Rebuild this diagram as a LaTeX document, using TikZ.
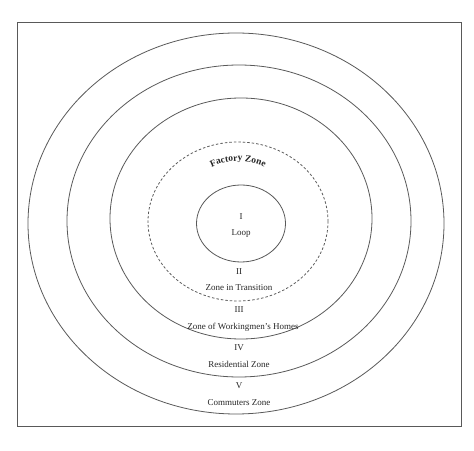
\documentclass[tikz,border=0pt]{standalone}
\usepackage{fontspec}
\setmainfont{Liberation Serif}
\usetikzlibrary{decorations.text}
\begin{document}
\begin{tikzpicture}[x=1pt,y=1pt,
  ring/.style={draw=black!65,line width=0.8pt},
  dashring/.style={draw=black!65,line width=0.8pt,dash pattern=on 2.5pt off 2pt},
  lbl/.style={font=\fontsize{9}{10}\selectfont,text=black!85,inner sep=0pt}]
\useasboundingbox (0,0) rectangle (474,450);
\draw[black!65,line width=0.8pt] (17,24) rectangle (461,428);
\draw[ring] (236,226.5) ellipse [x radius=208, y radius=190.5];
\draw[ring] (239,229) ellipse [x radius=172, y radius=156];
\draw[ring] (241,231.5) ellipse [x radius=131, y radius=120.5];
\draw[dashring] (238,228.5) ellipse [x radius=90, y radius=79.5];
\draw[ring] (241,226.5) ellipse [x radius=44.5, y radius=38.5];
\path[decorate,decoration={text along path,text align=center,
  text format delimiters={|}{|},
  text={|\fontsize{9.5}{10}\selectfont\bfseries\color{black!85}|Factory Zone}}]
  (238,229) ++(140:60) arc[start angle=140,end angle=40,radius=60];
\node[lbl] (i) at (241,233) {I};
\node[lbl] (loop) at (241,216) {Loop};
\node[lbl] (ii) at (239,178) {II};
\node[lbl] (zt) at (239,162) {Zone in Transition};
\node[lbl] (iii) at (239,140) {III};
\node[lbl] (zw) at (243,123) {Zone of Workingmen's Homes};
\node[lbl] (iv) at (239,102) {IV};
\node[lbl] (rz) at (239,86) {Residential Zone};
\node[lbl] (v) at (239,64) {V};
\node[lbl] (cz) at (239,47) {Commuters Zone};
\end{tikzpicture}
\end{document}
